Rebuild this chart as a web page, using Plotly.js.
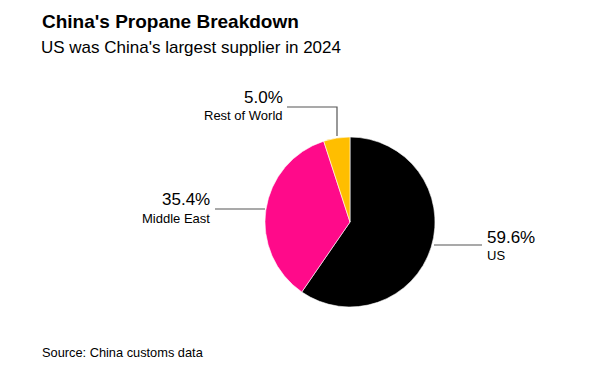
<!DOCTYPE html>
<html>
<head>
<meta charset="utf-8">
<script src="https://cdn.plot.ly/plotly-3.0.1.min.js"></script>
<style>html,body{margin:0;padding:0;background:#fff;}#chart{width:591px;height:369px;}</style>
</head>
<body>
<div id="chart"></div>
<script>
const labels = ["US", "Middle East", "Rest of World"];
const values = [59.6, 35.4, 5.0];
const colors = ["#000000", "#ff0a8a", "#ffbe00"];
const titleText = "China's Propane Breakdown";
const subtitleText = "US was China's largest supplier in 2024";
const sourceText = "Source: China customs data";

const W = 591, H = 369;
const px = x => x / W;
const py = y => 1 - y / H;
const FONT = "Liberation Sans, Arial, sans-serif";

const cx = 350, cy = 222, r = 85;

const trace = {
  type: "pie",
  labels: labels,
  values: values,
  sort: false,
  direction: "clockwise",
  rotation: 0,
  textinfo: "none",
  hoverinfo: "label+percent",
  marker: {colors: colors, line: {color: "#ffffff", width: 0.6}},
  domain: {x: [px(cx - r), px(cx + r)], y: [py(cy + r), py(cy - r)]},
  showlegend: false
};

// label placement (pixel layout)
const labelPos = [
  {x: 485, anchor: "left", yPct: 237, yLab: 255},
  {x: 212, anchor: "right", yPct: 200, yLab: 218},
  {x: 285, anchor: "right", yPct: 97, yLab: 115}
];

const annotations = [
  {text: "<b>" + titleText + "</b>", x: px(40), y: py(22), xref: "paper", yref: "paper", xanchor: "left", yanchor: "middle", showarrow: false, font: {family: FONT, size: 19, color: "#000"}},
  {text: subtitleText, x: px(39), y: py(47), xref: "paper", yref: "paper", xanchor: "left", yanchor: "middle", showarrow: false, font: {family: FONT, size: 17, color: "#000"}},
  {text: sourceText, x: px(40), y: py(352), xref: "paper", yref: "paper", xanchor: "left", yanchor: "middle", showarrow: false, font: {family: FONT, size: 12.8, color: "#000"}}
];
labels.forEach((lab, i) => {
  const p = labelPos[i];
  annotations.push({text: values[i].toFixed(1) + "%", x: px(p.x), y: py(p.yPct), xref: "paper", yref: "paper", xanchor: p.anchor, yanchor: "middle", showarrow: false, font: {family: FONT, size: 17, color: "#000"}});
  annotations.push({text: lab, x: px(p.x), y: py(p.yLab), xref: "paper", yref: "paper", xanchor: p.anchor, yanchor: "middle", showarrow: false, font: {family: FONT, size: 13, color: "#000"}});
});

const lineStyle = {color: "#555555", width: 1.2};
const shapes = [
  {type: "line", xref: "paper", yref: "paper", x0: px(434), x1: px(482), y0: py(245), y1: py(245), line: lineStyle},
  {type: "line", xref: "paper", yref: "paper", x0: px(215), x1: px(265), y0: py(209), y1: py(209), line: lineStyle},
  {type: "path", xref: "paper", yref: "paper", path: `M ${px(287)} ${py(107)} L ${px(337)} ${py(107)} L ${px(337)} ${py(136)}`, line: lineStyle}
];

const layout = {
  width: W, height: H,
  margin: {l: 0, r: 0, t: 0, b: 0},
  paper_bgcolor: "#ffffff",
  plot_bgcolor: "#ffffff",
  annotations: annotations,
  shapes: shapes,
  showlegend: false
};

Plotly.newPlot("chart", [trace], layout, {displayModeBar: false, staticPlot: true});
</script>
</body>
</html>
